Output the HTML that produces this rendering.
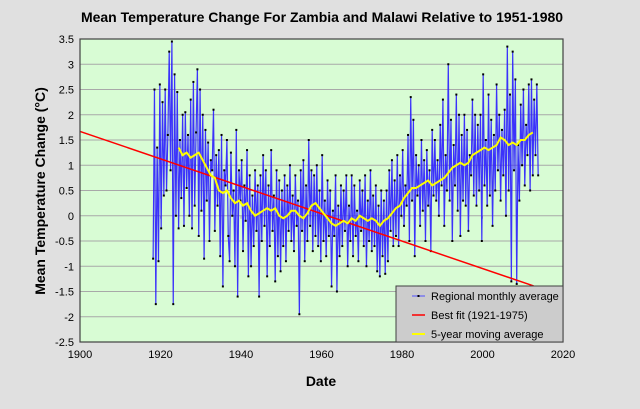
<!DOCTYPE html>
<html><head><meta charset="utf-8"><style>
body{margin:0;background:#e0e0e0;}
svg{display:block;font-family:"Liberation Sans",sans-serif;}
</style></head><body>
<svg width="640" height="409" viewBox="0 0 640 409">
<rect x="0" y="0" width="640" height="409" fill="#e0e0e0"/>
<text x="322" y="22" text-anchor="middle" font-size="14" font-weight="bold">Mean Temperature Change For Zambia and Malawi Relative to 1951-1980</text>
<rect x="80" y="39" width="483" height="303" fill="#d8fcd4"/>
<g id="grid"></g>
<g id="series"></g>
<rect x="80" y="39" width="483" height="303" fill="none" stroke="#404040" stroke-width="1.2"/>
<g id="ticks"></g>
<text transform="translate(45,191) rotate(-90)" text-anchor="middle" font-size="14" font-weight="bold">Mean  Temperature  Change  (°C)</text>
<text x="321" y="386" text-anchor="middle" font-size="14" font-weight="bold">Date</text>
<g>
<rect x="396" y="286" width="167" height="56" fill="#cccccc" stroke="#404040" stroke-width="1"/>
<line x1="412" y1="296" x2="425" y2="296" stroke="#5050ff" stroke-width="1"/>
<rect x="417.5" y="295" width="2" height="2" fill="#000"/>
<text x="431" y="300" font-size="11">Regional monthly average</text>
<line x1="412" y1="315" x2="425" y2="315" stroke="#ff0000" stroke-width="1.5"/>
<text x="431" y="319" font-size="11">Best fit (1921-1975)</text>
<line x1="412" y1="334" x2="425" y2="334" stroke="#ffff00" stroke-width="2"/>
<text x="431" y="338" font-size="11">5-year moving average</text>
</g>
</svg>
<script>
const xTicks=[1900,1920,1940,1960,1980,2000,2020];
const yTicks=[3.5,3,2.5,2,1.5,1,0.5,0,-0.5,-1,-1.5,-2,-2.5];
const monthlyStartYear=1918;
const monthlyValues=[
-0.85,2.5,-1.75, 1.35,-0.9,2.6, -0.25,2.25,0.4, 2.5,0.5,1.6, 3.25,0.9,3.45, -1.75,2.8,0.0,
2.45,-0.25,1.5, 0.35,2.0,-0.2, 2.05,0.55,1.6, 0.0,2.3,-0.25, 2.65,0.2,1.65, 2.9,-0.4,2.5,
0.1,2.0,-0.85, 1.7,0.3,1.45, -0.5,1.1,0.9, 2.1,-0.3,1.2, 0.2,1.3,-0.8, 1.6,-1.4,0.9,
0.6,1.5,-0.4, -0.9,1.25,0.0, 0.5,-1.0,1.7, -1.6,0.9,0.3, 1.1,-0.7,0.6, -0.1,1.3,-1.2,
0.8,-1.0,0.4, -0.6,0.9,-0.3, 0.6,-1.6,0.8, -0.5,1.2,-0.2, 0.9,-1.2,0.6, -0.6,1.3,-0.3,
0.4,-1.3,0.9, -0.8,0.7,-1.1, 0.5,-0.6,0.8, -0.9,0.6,-0.3, 1.0,-0.5,0.4, -0.7,0.8,-0.2,
0.3,-1.95,0.9, -0.3,1.1,-0.9, 0.6,-0.5,1.5, -0.2,0.9,-0.7, 0.8,-0.4,1.0, -0.6,0.5,-0.9,
1.2,-0.5,0.3, -0.8,0.7,-0.4, 0.5,-1.4,0.1, -0.4,0.8,-1.5, 0.2,-0.8,0.6, -0.6,0.5,-0.3,
0.8,-1.0,0.2, -0.5,0.8,-0.8, 0.6,-0.4,0.1, -0.9,0.7,-0.3, 0.5,-0.6,0.8, -1.0,0.3,-0.5,
0.9,-0.7,0.4, -0.6,0.6,-1.1, 0.2,-1.2,0.5, -0.8,0.3,-1.15, 0.5,-0.9,0.9, -0.3,1.1,-0.6,
0.7,-0.4,1.2, -0.6,0.8,0.0, 1.3,-0.2,0.6, 0.2,1.6,-0.5, 2.35,0.3,1.9, -0.8,1.2,0.4,
1.0,-0.2,1.5, 0.1,1.1,-0.5, 1.3,0.2,0.9, -0.7,1.7,0.4, 1.5,0.3,1.1, 0.0,1.8,0.6,
2.3,-0.2,1.2, 0.5,3.0,0.3, 1.9,-0.5,1.4, 0.6,2.4,0.1, 2.0,-0.4,1.6, 0.3,2.0,0.2,
1.7,-0.3,1.2, 0.8,2.3,0.4, 2.0,0.2,1.8, 0.5,2.0,-0.5, 2.8,0.6,1.5, 0.2,2.4,0.4,
1.9,-0.2,1.6, 0.5,2.6,0.9, 2.0,0.3,1.7, 0.8,2.1,0.0, 3.35,0.5,2.4, -1.3,3.25,0.9,
2.7,-1.35,1.4, 0.3,2.2,1.0, 2.5,0.6,1.8, 1.2,2.6,0.5, 2.7,0.8,2.3, 1.2,2.6,0.8];
const samplesPerYear=3;
const maStartYear=1924;
const maValues=[1.35,1.2,1.25,1.15,1.2,1.25,1.1,0.95,0.8,0.75,0.5,0.45,0.5,0.35,0.25,0.3,0.2,0.25,0.1,0.0,
0.05,0.1,0.15,0.1,0.15,0.0,-0.05,0.0,0.1,0.1,0.0,-0.05,0.05,0.2,0.25,0.15,0.05,-0.05,-0.15,-0.2,
-0.15,-0.1,-0.15,-0.05,-0.1,0.0,-0.05,-0.1,-0.05,-0.1,-0.2,-0.1,-0.05,0.05,0.15,0.2,0.35,0.45,0.55,0.55,
0.6,0.65,0.7,0.6,0.65,0.7,0.75,0.85,0.95,1.0,1.05,1.0,1.05,1.2,1.25,1.3,1.35,1.3,1.35,1.4,
1.55,1.5,1.4,1.45,1.4,1.5,1.5,1.6,1.65];
const fitYears=[1900,2012.7];
const fitValues=[1.67,-1.39];

const NS='http://www.w3.org/2000/svg';
const X=y=>80+(y-1900)*483/120;
const Y=v=>39+(3.5-v)*303/6;
function mk(tag,attrs,parent){const e=document.createElementNS(NS,tag);for(const k in attrs)e.setAttribute(k,attrs[k]);parent.appendChild(e);return e;}
const grid=document.getElementById('grid'),ticks=document.getElementById('ticks'),series=document.getElementById('series');
yTicks.forEach(v=>{
  if(v!==3.5&&v!==-2.5){const l=mk('line',{x1:80,x2:563,y1:Y(v),y2:Y(v),stroke:'#a8a8a8','stroke-width':1},grid);
  
  }
  const t=mk('text',{x:74,y:Y(v)+4,'text-anchor':'end','font-size':11},ticks);
  
  
  t.textContent=String(v);
});
xTicks.forEach(yr=>{
  const t=mk('text',{x:X(yr),y:358,'text-anchor':'middle','font-size':11},ticks);
  
  
  t.textContent=String(yr);
  if(yr>1900&&yr<2020){const m=mk('line',{x1:X(yr),x2:X(yr),y1:Y(0),y2:Y(0)+3,stroke:'#a8a8a8'},grid);
  
  }
});
const pts=monthlyValues.map((v,i)=>[X(monthlyStartYear+(i+0.5)/samplesPerYear),Y(v)]);
const pl=mk('polyline',{points:pts.map(p=>p.join(',')).join(' '),fill:'none',stroke:'#2a1cff','stroke-width':1.2,'stroke-opacity':0.9},series);


pts.forEach(p=>{const r=mk('rect',{x:p[0]-1,y:p[1]-1,width:2,height:2,fill:'#000'},series);
  
  });
const fit=mk('line',{x1:X(fitYears[0]),y1:Y(fitValues[0]),x2:X(fitYears[1]),y2:Y(fitValues[1]),stroke:'#ff0000','stroke-width':1.5},series);


const ma=mk('polyline',{points:maValues.map((v,i)=>X(maStartYear+i+0.5)+','+Y(v)).join(' '),fill:'none',stroke:'#ffff00','stroke-width':2},series);


</script>
</body></html>
